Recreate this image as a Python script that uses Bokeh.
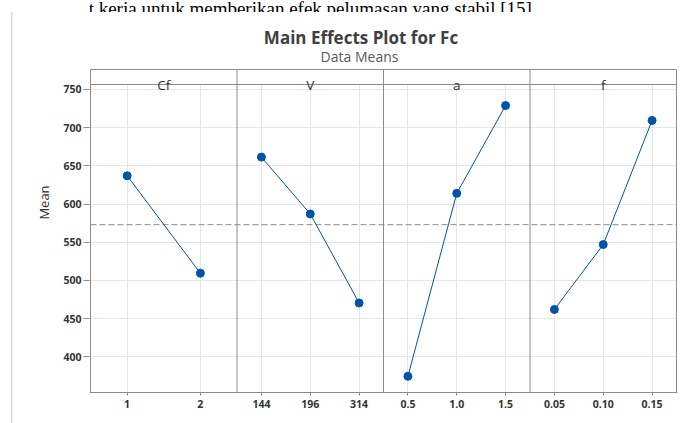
from bokeh.plotting import figure
from bokeh.models import Range1d, FixedTicker, Label
from bokeh.layouts import column
from bokeh.embed import file_html
from bokeh.resources import INLINE

# ---- data ----
factors = ["Cf", "V", "a", "f"]
cf_levels = ["1", "2"]
cf_means = [637.0, 509.5]
v_levels = ["144", "196", "314"]
v_means = [661.5, 587.0, 470.5]
a_levels = ["0.5", "1.0", "1.5"]
a_means = [374.5, 614.0, 729.0]
f_levels = ["0.05", "0.10", "0.15"]
f_means = [462.0, 547.0, 709.5]
grand_mean = 573.0
y_ticks = [400, 450, 500, 550, 600, 650, 700, 750]
doc_text = "t kerja untuk memberikan efek pelumasan yang stabil [15]."
title_text = "Main Effects Plot for Fc"
subtitle_text = "Data Means"

levels_all = [cf_levels, v_levels, a_levels, f_levels]
means_all = [cf_means, v_means, a_means, f_means]

# ---- geometry ----
W = 696
TOP_H = 12                   # strip of cropped document text above the graph
H = 423 - TOP_H
BL, BB = 89, 31
FW = 588                     # frame width incl. 1px pad each side
BR = W - BL - FW
FH = H - BB                  # frame reaches canvas top
UNIT = (FW - 2) / 4.0        # px per panel
E = 1.0 / UNIT
PPU = 0.76371                # px per y unit
Y0 = 353.25
Y1 = Y0 + FH / PPU

def px_x(ref_x):
    return (ref_x - BL - 1) / UNIT

def px_y(ref_y):
    return Y1 - (ref_y - TOP_H) / PPU

BLUE = "#0054a6"
GRID = "#e6e6e6"
BORDER = "#8c8c8c"
TXT = "#333333"
FONT = "Open Sans"

# ---- cropped document line above the graph ----
top = figure(width=W, height=TOP_H, output_backend="svg", toolbar_location=None,
             title=None, x_range=Range1d(0, W), y_range=Range1d(-TOP_H, 0),
             x_axis_type=None, y_axis_type=None, min_border=0)
top.outline_line_color = None
top.background_fill_color = "white"
top.border_fill_color = "white"
top.add_layout(Label(x=-1, y=-8, text=doc_text, text_align="left",
                     text_baseline="alphabetic", text_font="Liberation Serif",
                     text_font_size="19px", text_color="#000000"))

# ---- main effects plot ----
p = figure(width=W, height=H, output_backend="svg", toolbar_location=None,
           title=None, x_range=Range1d(-E, 4 + E), y_range=Range1d(Y0, Y1),
           min_border_left=BL, min_border_right=BR, min_border_top=0,
           min_border_bottom=BB)
p.background_fill_color = "white"
p.border_fill_color = None
p.outline_line_color = None
p.styles = {"box-shadow": "inset 11px 0 0 0 #ffffff, inset 12.5px 0 0 0 #d9d9d9",
            "background-color": "#ffffff"}

tick_pos = []
overrides = {}
for i, lv in enumerate(levels_all):
    n = len(lv)
    for j, lab in enumerate(lv):
        xpos = i + (j + 0.5) / n
        tick_pos.append(xpos)
        overrides[xpos] = lab

p.xaxis.ticker = FixedTicker(ticks=tick_pos)
p.xaxis.major_label_overrides = overrides
p.yaxis.ticker = FixedTicker(ticks=y_ticks)
for ax in (p.xaxis, p.yaxis):
    ax.axis_line_color = BORDER
    ax.major_tick_line_color = BORDER
    ax.minor_tick_line_color = None
    ax.major_tick_in = 0
    ax.major_label_text_font = FONT
    ax.major_label_text_font_size = "10.5px"
    ax.major_label_text_font_style = "bold"
    ax.major_label_text_color = TXT
p.yaxis.axis_line_color = None
p.yaxis.major_tick_out = 6
p.yaxis.major_label_standoff = 2
p.xaxis.major_tick_out = 3
p.xaxis.major_label_standoff = 4
p.yaxis.axis_label = "Mean"
p.yaxis.axis_label_text_font = FONT
p.yaxis.axis_label_text_font_size = "13px"
p.yaxis.axis_label_text_font_style = "normal"
p.yaxis.axis_label_text_color = TXT
p.yaxis.axis_label_standoff = 7

p.xgrid.grid_line_color = GRID
p.ygrid.grid_line_color = GRID

strip_top = px_y(69)
strip_bot = px_y(84)
p.quad(left=[-E], right=[4 + E], bottom=[strip_bot], top=[Y1],
       fill_color="white", line_color=None)

p.segment(x0=[0, 1, 2, 3, 4], y0=[Y0] * 5, x1=[0, 1, 2, 3, 4], y1=[strip_top] * 5,
          line_color=BORDER, line_width=1)
p.segment(x0=[0, 0], y0=[strip_top, strip_bot], x1=[4, 4], y1=[strip_top, strip_bot],
          line_color=BORDER, line_width=1)

for i, name in enumerate(factors):
    p.add_layout(Label(x=i + 0.5, y=strip_bot, text=name, text_align="center",
                       text_baseline="alphabetic", text_font=FONT,
                       text_font_size="13.5px", text_color=TXT))

p.segment(x0=[0], y0=[grand_mean], x1=[4], y1=[grand_mean],
          line_color="#8c8c8c", line_width=1, line_dash="6 3")

for i, (lv, mv) in enumerate(zip(levels_all, means_all)):
    n = len(lv)
    xs = [i + (j + 0.5) / n for j in range(n)]
    p.line(xs, mv, line_color=BLUE, line_width=1)
    p.scatter(xs, mv, size=8, fill_color=BLUE, line_color=BLUE, marker="circle")

p.add_layout(Label(x=px_x(360.5), y=px_y(37.3), text=title_text,
                   text_align="center", text_baseline="alphabetic",
                   text_font=FONT, text_font_size="17px", text_font_style="bold",
                   text_color="#404040"))
p.add_layout(Label(x=px_x(359), y=px_y(55.7), text=subtitle_text,
                   text_align="center", text_baseline="alphabetic",
                   text_font=FONT, text_font_size="14px", text_color="#595959"))

layout = column(top, p, spacing=0)
open("out.html", "w").write(file_html(layout, INLINE))
